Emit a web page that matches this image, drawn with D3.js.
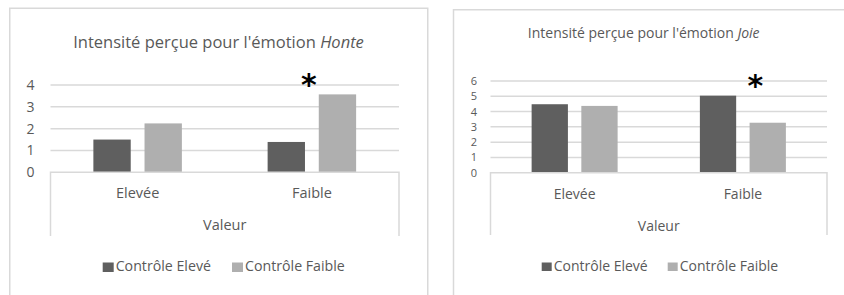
<!DOCTYPE html>
<html><head><meta charset="utf-8">
<script src="https://cdn.jsdelivr.net/npm/d3@7"></script>
<style>
body{margin:0;background:#fff;}
svg{display:block;font-family:"Open Sans",sans-serif;}
</style></head><body>
<svg id="c" width="844" height="295"></svg>
<script>
const categories = ["Elevée", "Faible"];
const seriesNames = ["Contrôle Elevé", "Contrôle Faible"];
const honteElevé = [1.50, 1.39];
const honteFaible = [2.24, 3.57];
const joieElevé = [4.48, 5.04];
const joieFaible = [4.37, 3.27];
const honteTicks = [0, 1, 2, 3, 4];
const joieTicks = [0, 1, 2, 3, 4, 5, 6];
const honteStar = "Faible";
const joieStar = "Faible";

const colors = ["#5f5f5f", "#afafaf"];
const grid = "#d9d9d9";
const txt = "#595959";
const svg = d3.select("#c");

function drawChart(o) {
  const g = svg.append("g");
  g.append("rect").attr("x", o.box[0]).attr("y", o.box[1]).attr("width", o.box[2]).attr("height", o.box[3])
    .attr("fill", "none").attr("stroke", grid).attr("stroke-width", 1.5);
  const x0 = d3.scaleBand().domain(categories).range([o.left, o.right]);
  const x1 = d3.scaleBand().domain(seriesNames).range([0, o.groupW]).paddingInner(o.inner);
  const y = d3.scaleLinear().domain([0, d3.max(o.ticks)]).range([o.bottom, o.top]);
  g.selectAll(".gl").data(o.ticks.filter(t => t > 0)).join("line")
    .attr("x1", o.left).attr("x2", o.right).attr("y1", d => y(d)).attr("y2", d => y(d))
    .attr("stroke", grid).attr("stroke-width", 1.5);
  const ya = d3.axisLeft(y).tickValues(o.ticks).tickSize(0).tickPadding(0).tickFormat(d3.format("d"));
  const yg = g.append("g").attr("transform", `translate(${o.ylabX},0)`).call(ya);
  yg.select(".domain").remove();
  yg.selectAll("text").attr("fill", txt).style("font-size", o.tickFs + "px").style("font-family", '"Open Sans",sans-serif');
  const data = categories.map((c, i) => ({c, vals: [o.s1[i], o.s2[i]]}));
  const grp = g.selectAll(".grp").data(data).join("g")
    .attr("transform", d => `translate(${x0(d.c) + (x0.bandwidth() - o.groupW) / 2},0)`);
  grp.selectAll("rect").data(d => d.vals.map((v, k) => ({k, v}))).join("rect")
    .attr("x", d => x1(seriesNames[d.k])).attr("width", x1.bandwidth())
    .attr("y", d => y(d.v)).attr("height", d => y(0) - y(d.v))
    .attr("fill", d => colors[d.k]);
  g.append("path")
    .attr("d", `M${o.left},${o.boxBottom}V${y(0)}H${o.right}V${o.boxBottom}`)
    .attr("fill", "none").attr("stroke", grid).attr("stroke-width", 1.5);
  const xa = d3.axisBottom(x0).tickSize(0).tickPadding(0);
  const xg = g.append("g").attr("transform", `translate(0,${o.catY})`).call(xa);
  xg.select(".domain").remove();
  xg.selectAll("text").attr("fill", txt).attr("dy", 0).style("font-size", o.catFs + "px").style("font-family", '"Open Sans",sans-serif');
  g.append("text").attr("x", (o.left + o.right) / 2).attr("y", o.valY).attr("text-anchor", "middle")
    .attr("fill", txt).style("font-size", o.catFs + "px").text("Valeur");
  const t = g.append("text").attr("x", o.titleX).attr("y", o.titleY).attr("text-anchor", "middle")
    .attr("fill", txt).style("font-size", o.titleFs + "px");
  t.append("tspan").text("Intensité perçue pour l'émotion ");
  t.append("tspan").attr("font-style", "italic").text(o.emotion);
  g.append("text").attr("x", x0(o.star) + x0.bandwidth() / 2 + o.starDx).attr("y", o.starY).attr("text-anchor", "middle")
    .attr("fill", "#000").style("font-size", "30px").style("font-weight", "bold").style("font-family", "DejaVu Sans")
    .text("*");
  const lg = g.append("g");
  seriesNames.forEach((s, k) => {
    lg.append("rect").attr("x", o.legX[k]).attr("y", o.legY - 8.5).attr("width", o.legSq).attr("height", o.legSq - 1.5)
      .attr("fill", colors[k]);
    lg.append("text").attr("x", o.legX[k] + o.legSq + 2).attr("y", o.legY).attr("fill", txt)
      .style("font-size", o.legFs + "px").text(s);
  });
}

drawChart({
  box: [9.75, 8.25, 418, 300], left: 50.5, right: 399, top: 85, bottom: 172.3, boxBottom: 236,
  groupW: 88.5, inner: 0.27, ticks: honteTicks, s1: honteElevé, s2: honteFaible, ylabX: 34.5, tickFs: 14,
  catY: 198, catFs: 14.5, valY: 230, titleX: 218.5, titleY: 48, titleFs: 16.5, emotion: "Honte",
  star: honteStar, starDx: -3, starY: 95, legX: [102.7, 232], legY: 271, legSq: 11, legFs: 14.2
});
drawChart({
  box: [453.5, 9.75, 420, 300], left: 490.5, right: 827, top: 81, bottom: 172.7, boxBottom: 235,
  groupW: 86, inner: 0.27, ticks: joieTicks, s1: joieElevé, s2: joieFaible, ylabX: 477, tickFs: 11,
  catY: 199, catFs: 14, valY: 231, titleX: 643.7, titleY: 38, titleFs: 14, emotion: "Joie",
  star: joieStar, starDx: 12.5, starY: 96, legX: [541.7, 667.7], legY: 271, legSq: 10, legFs: 14
});
</script>
</body></html>
